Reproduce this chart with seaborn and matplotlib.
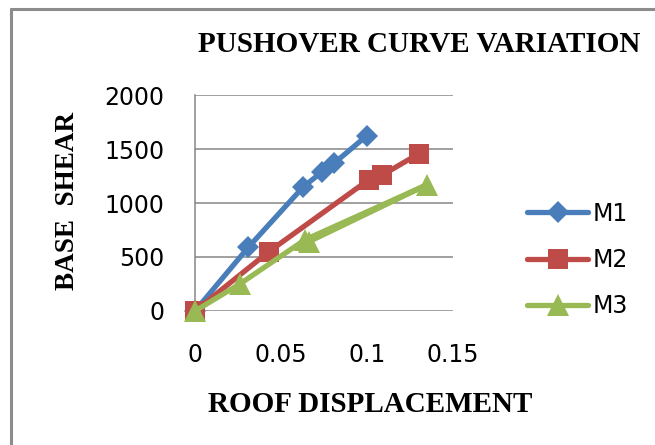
import matplotlib
matplotlib.use("Agg")
import matplotlib.pyplot as plt
from matplotlib.lines import Line2D
import numpy as np
import pandas as pd
import seaborn as sns

# Pushover curves: roof displacement vs base shear for three models
m1_disp = [0.0, 0.031, 0.063, 0.074, 0.081, 0.100]
m1_shear = [0, 590, 1150, 1290, 1370, 1625]
m2_disp = [0.0, 0.043, 0.101, 0.109, 0.130]
m2_shear = [0, 550, 1215, 1260, 1455]
m3_disp = [0.0, 0.026, 0.064, 0.135, 0.066]
m3_shear = [0, 250, 660, 1170, 640]

series_names = ["M1", "M2", "M3"]
x_ticks = [0, 0.05, 0.1, 0.15]
x_tick_labels = ["0", "0.05", "0.1", "0.15"]
y_ticks = [0, 500, 1000, 1500, 2000]

frames = []
for name, xs, ys in [("M1", m1_disp, m1_shear), ("M2", m2_disp, m2_shear), ("M3", m3_disp, m3_shear)]:
    frames.append(pd.DataFrame({"disp": xs, "shear": ys, "model": name, "order": range(len(xs))}))
df = pd.concat(frames, ignore_index=True)

colors = {"M1": "#4A7EBB", "M2": "#BE4B48", "M3": "#98B954"}
markers = {"M1": "D", "M2": "s", "M3": "^"}
msizes = {"M1": 11, "M2": 15, "M3": 16}

sns.set_theme(style="white")
plt.rcParams["font.family"] = ["DejaVu Sans"]
plt.rcParams["text.color"] = "black"

W, H = 655, 445
fig = plt.figure(figsize=(W / 100, H / 100), dpi=100)
ax = fig.add_axes([195 / W, 1 - 311 / H, (453 - 195) / W, (311 - 95) / H])

for name in series_names:
    sub = df[df["model"] == name]
    sns.lineplot(data=sub, x="disp", y="shear", sort=False, ax=ax, color=colors[name],
                 marker=markers[name], markersize=msizes[name], markeredgewidth=0,
                 linewidth=3.8, label=name, clip_on=False, zorder=3, estimator=None)

ax.set_xlim(0, 0.15)
ax.set_ylim(0, 2000)
ax.set_xticks(x_ticks)
ax.set_xticklabels(x_tick_labels)
ax.set_yticks(y_ticks)
ax.set_xlabel("")
ax.set_ylabel("")
ax.tick_params(axis="both", labelsize=17, colors="#000000", length=0)
ax.tick_params(axis="y", pad=22)
ax.tick_params(axis="x", pad=23)
ax.yaxis.grid(True, color="#868686", linewidth=1.1)
ax.xaxis.grid(False)
for side in ["top", "right", "bottom"]:
    ax.spines[side].set_visible(False)
ax.spines["left"].set_color("#868686")
ax.spines["left"].set_linewidth(1.1)

serif = ["Liberation Serif", "DejaVu Serif"]
fig.text(419 / W, 1 - 44 / H, "PUSHOVER CURVE VARIATION", ha="center", va="center",
         fontsize=21, fontweight="bold", family=serif, color="black")
fig.text(67 / W, 1 - 201 / H, "BASE  SHEAR", ha="center", va="center", rotation=90,
         fontsize=19.5, fontweight="bold", family=serif, color="black")
fig.text(370 / W, 1 - 405 / H, "ROOF DISPLACEMENT", ha="center", va="center",
         fontsize=21, fontweight="bold", family=serif, color="black")

leg = ax.legend(loc="center left", bbox_to_anchor=(527 / W, 1 - 260 / H),
                bbox_transform=fig.transFigure, frameon=False, fontsize=17,
                handlelength=2.6, handletextpad=0.2, labelspacing=0.95,
                borderpad=0, borderaxespad=0)
for t in leg.get_texts():
    t.set_color("black")

# chart frame: left and top edges
frame_kw = dict(transform=fig.transFigure, color="#8C8C8C", linewidth=2.2)
fig.add_artist(Line2D([11 / W, 11 / W], [0, 1 - 9 / H], **frame_kw))
fig.add_artist(Line2D([11 / W, 1], [1 - 9 / H, 1 - 9 / H], **frame_kw))

fig.savefig("out.png", dpi=100)
